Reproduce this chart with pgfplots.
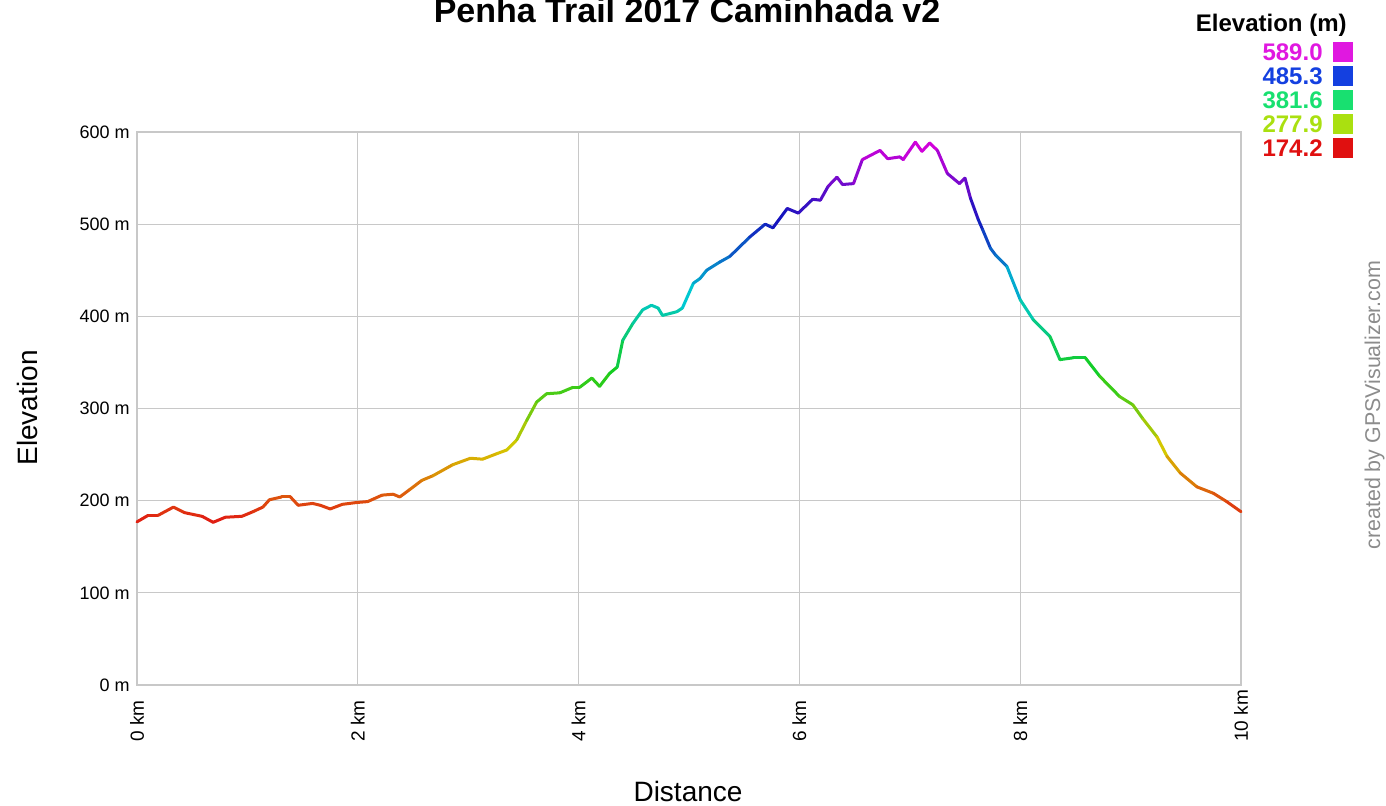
\documentclass[border=0pt]{standalone}
\usepackage{fontspec}
\setmainfont{Liberation Sans}
\usepackage{pgfplots}
\pgfplotsset{compat=1.18}
\definecolor{gridgray}{RGB}{200,200,200}
\definecolor{lgmag}{RGB}{224,24,224}
\definecolor{lgblue}{RGB}{20,64,224}
\definecolor{lggreen}{RGB}{24,224,112}
\definecolor{lgyel}{RGB}{170,224,16}
\definecolor{lgred}{RGB}{224,16,16}
\definecolor{credgray}{RGB}{140,140,140}
\pgfplotsset{colormap={elev}{
  rgb255(0cm)=(225,20,20)
  rgb255(1cm)=(215,200,0)
  rgb255(2cm)=(20,205,30)
  rgb255(3cm)=(0,200,210)
  rgb255(4cm)=(20,20,190)
  rgb255(5cm)=(220,0,220)}}
\begin{document}
\begin{tikzpicture}
\begin{axis}[
  at={(0pt,0pt)}, anchor=south west,
  scale only axis, width=552pt, height=276.5pt,
  xmin=0, xmax=10, ymin=0, ymax=600,
  xtick={0,2,4,6,8,10},
  xticklabels={0 km,2 km,4 km,6 km,8 km,10 km},
  ytick={0,100,200,300,400,500,600},
  yticklabels={0 m,100 m,200 m,300 m,400 m,500 m,600 m},
  grid=major,
  major grid style={draw=gridgray, line width=0.5pt},
  axis line style={draw=gridgray, line width=0.6pt},
  major tick length=0pt,
  tick style={draw=none},
  xticklabel style={font=\fontsize{9.5}{11}\selectfont, rotate=90, anchor=west, inner sep=0pt},
  xticklabel shift=28.5pt,
  yticklabel style={font=\fontsize{9}{11}\selectfont, anchor=east, inner sep=0pt},
  yticklabel shift=3.5pt,
  colormap name=elev,
  point meta min=174.2, point meta max=589,
  clip=false,
]
\addplot[mesh, point meta=y, line width=1.5pt, line join=round, line cap=round] coordinates {
(0,177) (0.10,184) (0.19,184) (0.33,193) (0.43,187) (0.59,183) (0.69,176.5)
(0.80,182) (0.95,183) (1.05,188) (1.14,193) (1.20,201) (1.31,204) (1.39,204)
(1.46,195) (1.59,197) (1.66,195) (1.75,191) (1.86,196) (1.99,198) (2.09,199)
(2.22,206) (2.32,207) (2.38,204) (2.47,212) (2.58,222) (2.68,227) (2.86,239)
(3.02,246) (3.13,245) (3.26,251) (3.35,255) (3.44,266) (3.53,287) (3.62,307)
(3.71,316) (3.83,317) (3.95,323) (4.01,323) (4.12,333) (4.19,324) (4.28,338)
(4.35,345) (4.40,374) (4.49,392) (4.58,407) (4.66,412) (4.72,409) (4.76,401)
(4.89,405) (4.94,409) (5.04,436) (5.10,441) (5.16,450) (5.28,459) (5.37,465)
(5.55,486) (5.69,500) (5.76,496) (5.89,517) (5.99,512) (6.12,527) (6.19,526)
(6.26,541) (6.34,551) (6.39,543) (6.49,544) (6.57,570) (6.73,580) (6.80,571)
(6.91,573) (6.94,570) (7.05,589) (7.11,579) (7.18,588) (7.25,580) (7.34,555)
(7.45,544) (7.50,550) (7.55,528) (7.62,505) (7.66,494) (7.73,474) (7.78,466)
(7.88,454) (8.00,418) (8.12,396) (8.27,378) (8.36,353) (8.48,355) (8.59,355)
(8.72,335) (8.90,313) (9.02,304) (9.11,289) (9.24,269) (9.33,248) (9.45,230)
(9.60,215) (9.75,208) (9.87,199) (10.0,188)
};
\end{axis}
% title
\node[anchor=base, font=\fontsize{17}{20}\selectfont\bfseries] at (275pt,331pt) {Penha Trail 2017 Caminhada v2};
% axis titles
\node[rotate=90, anchor=center, font=\fontsize{14}{16}\selectfont] at (-55pt,138.5pt) {Elevation};
\node[anchor=base, font=\fontsize{14}{16}\selectfont] at (275.5pt,-58.5pt) {Distance};
% credit
\node[rotate=90, anchor=base, font=\fontsize{10.7}{12}\selectfont, text=credgray] at (621.5pt,140pt) {created by GPSVisualizer.com};
% legend
\node[anchor=base east, font=\fontsize{12}{14}\selectfont\bfseries, inner sep=0pt] at (605pt,326.5pt) {Elevation (m)};
\foreach \lab/\col/\py in {589.0/lgmag/52, 485.3/lgblue/76, 381.6/lggreen/100, 277.9/lgyel/124, 174.2/lgred/148}{
  \node[anchor=east, font=\fontsize{12}{14}\selectfont\bfseries, text=\col, inner sep=0pt] at (593pt,{(685-\py)*0.5pt}) {\lab};
  \fill[\col] (598pt,{(685-\py)*0.5pt-5pt}) rectangle (608pt,{(685-\py)*0.5pt+5pt});
}
\pgfresetboundingbox
\path[use as bounding box] (-68.5pt,-60.5pt) rectangle (624.5pt,342.5pt);
\end{tikzpicture}
\end{document}
